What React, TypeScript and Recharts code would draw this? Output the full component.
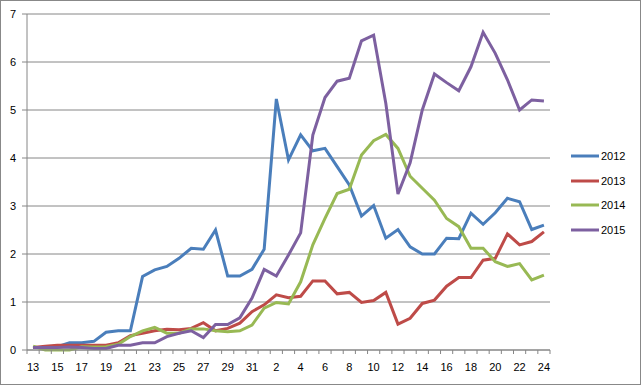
import { LineChart, Line, XAxis, YAxis, CartesianGrid } from 'recharts'

const days = [
  '13', '14', '15', '16', '17', '18', '19', '20', '21', '22', '23', '24', '25', '26', '27', '28', '29', '30', '31',
  '1', '2', '3', '4', '5', '6', '7', '8', '9', '10', '11', '12', '13', '14', '15', '16', '17', '18', '19', '20',
  '21', '22', '23', '24',
]

const s2012 = [
  0.05, 0.05, 0.07, 0.15, 0.15, 0.18, 0.37, 0.4, 0.4, 1.53, 1.67, 1.74, 1.91, 2.12, 2.1, 2.5, 1.54, 1.54, 1.68,
  2.1, 5.23, 3.96, 4.48, 4.15, 4.2, 3.82, 3.44, 2.79, 3.01, 2.33, 2.51, 2.15, 2.0, 2.0, 2.33, 2.32, 2.85, 2.62,
  2.86, 3.16, 3.09, 2.51, 2.6,
]
const s2013 = [
  0.05, 0.08, 0.1, 0.1, 0.1, 0.1, 0.1, 0.15, 0.3, 0.35, 0.4, 0.43, 0.42, 0.45, 0.57, 0.4, 0.45, 0.56, 0.8,
  0.94, 1.15, 1.09, 1.12, 1.44, 1.44, 1.17, 1.2, 0.99, 1.03, 1.2, 0.54, 0.66, 0.97, 1.04, 1.33, 1.51, 1.51, 1.87,
  1.91, 2.42, 2.19, 2.26, 2.46,
]
const s2014 = [
  0.08, 0.0, 0.0, 0.0, 0.07, 0.06, 0.07, 0.12, 0.28, 0.4, 0.47, 0.35, 0.35, 0.44, 0.44, 0.4, 0.38, 0.4, 0.52,
  0.87, 0.99, 0.96, 1.42, 2.19, 2.74, 3.26, 3.35, 4.06, 4.36, 4.49, 4.2, 3.62, 3.37, 3.12, 2.74, 2.57, 2.12, 2.12,
  1.84, 1.74, 1.8, 1.46, 1.56,
]
const s2015 = [
  0.05, 0.05, 0.05, 0.06, 0.05, 0.03, 0.03, 0.1, 0.1, 0.15, 0.15, 0.28, 0.35, 0.4, 0.26, 0.53, 0.53, 0.67, 1.08,
  1.68, 1.54, 1.98, 2.44, 4.48, 5.26, 5.6, 5.66, 6.44, 6.56, 5.14, 3.25, 3.9, 5.0, 5.75, 5.57, 5.4, 5.9, 6.62,
  6.18, 5.63, 5.0, 5.21, 5.19,
]

const series = [
  { key: '2012', values: s2012, color: '#4a7ebb' },
  { key: '2013', values: s2013, color: '#be4b48' },
  { key: '2014', values: s2014, color: '#98b954' },
  { key: '2015', values: s2015, color: '#7d60a0' },
]

const yTicks = [0, 1, 2, 3, 4, 5, 6, 7]

const data = days.map((day, i) => {
  const row: Record<string, number | string> = { i, day }
  series.forEach((s) => {
    row[s.key] = s.values[i]
  })
  return row
})

// tick marks sit between categories (Excel style), labels on every other category
const xTicks: number[] = []
for (let k = 0; k <= days.length; k++) xTicks.push(k - 0.5)
for (let k = 0; k < days.length; k += 2) xTicks.push(k)
xTicks.sort((a, b) => a - b)

const grey = '#868686'
const font = '"Liberation Sans", Arial, sans-serif'

function DayTick({ x, y, payload }: any) {
  const v = payload.value
  if (!Number.isInteger(v)) {
    return <line x1={x} x2={x} y1={y} y2={y + 4} stroke={grey} />
  }
  return (
    <text x={x} y={y + 21} textAnchor="middle" fontSize={11} fontFamily={font} fill="#000">
      {days[v]}
    </text>
  )
}

export default function App() {
  return (
    <div
      style={{
        position: 'absolute',
        left: 0,
        top: 0,
        width: 641,
        height: 385,
        border: '1px solid #888',
        boxSizing: 'border-box',
        background: '#fff',
      }}
    >
      <LineChart width={639} height={383} data={data} margin={{ top: 13, right: 90, left: 0, bottom: 0 }}>
        <CartesianGrid vertical={false} stroke={grey} strokeWidth={1} />
        <XAxis
          dataKey="i"
          type="number"
          domain={[-0.5, days.length - 0.5]}
          ticks={xTicks}
          interval={0}
          tick={<DayTick />}
          tickLine={false}
          tickSize={0}
          tickMargin={0}
          height={34}
          axisLine={{ stroke: grey }}
        />
        <YAxis
          domain={[0, 7]}
          ticks={yTicks}
          width={26}
          tickSize={5}
          tickMargin={6}
          axisLine={{ stroke: grey }}
          tickLine={{ stroke: grey }}
          tick={{ fontSize: 11, fontFamily: font, fill: '#000' }}
        />
        {series.map((s) => (
          <Line
            key={s.key}
            dataKey={s.key}
            stroke={s.color}
            strokeWidth={3}
            dot={false}
            isAnimationActive={false}
          />
        ))}
      </LineChart>
      <div style={{ position: 'absolute', left: 570, top: 143, fontFamily: font, fontSize: 11 }}>
        {series.map((s) => (
          <div key={s.key} style={{ display: 'flex', alignItems: 'center', height: 24.5 }}>
            <svg width={28} height={6} style={{ display: 'block' }}>
              <line x1={0} x2={28} y1={3} y2={3} stroke={s.color} strokeWidth={3} />
            </svg>
            <span style={{ marginLeft: 2 }}>{s.key}</span>
          </div>
        ))}
      </div>
    </div>
  )
}
